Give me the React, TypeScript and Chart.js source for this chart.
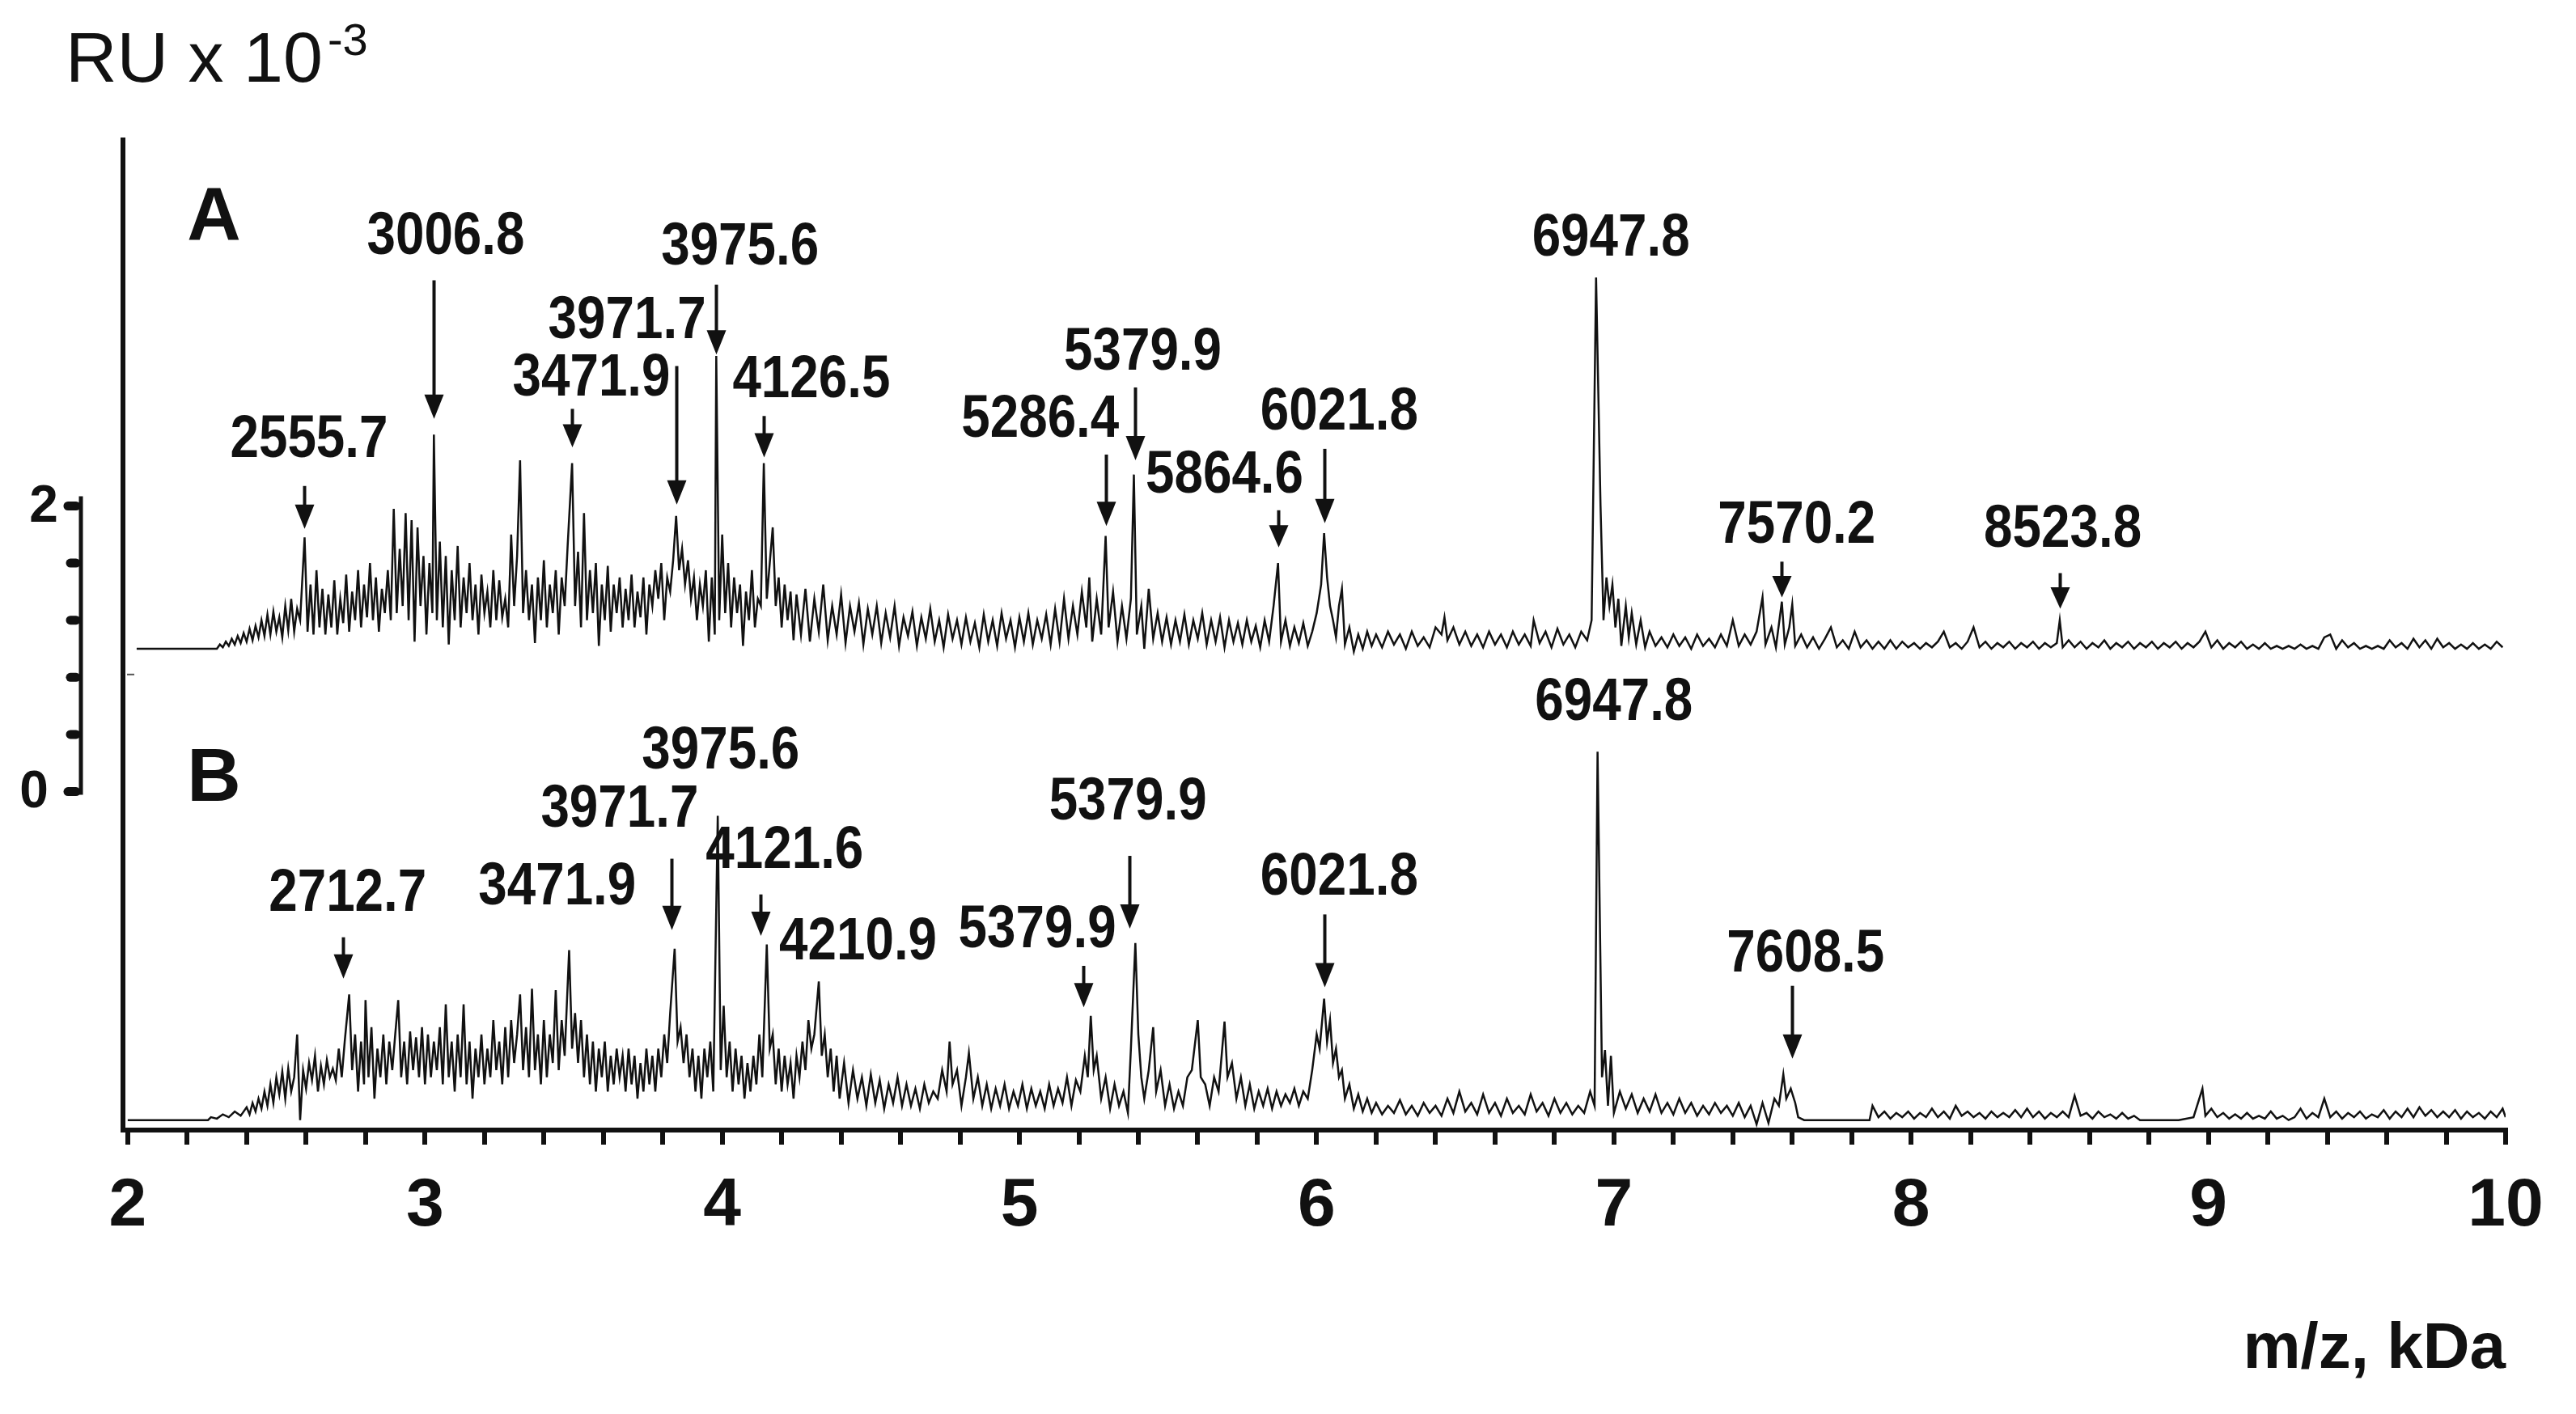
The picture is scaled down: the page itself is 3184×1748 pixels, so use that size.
import { useEffect, useRef } from 'react';
import { Chart, registerables } from 'chart.js';

Chart.register(...registerables);

// ---- Spectrum A: [m/z (kDa), intensity above its own baseline (RU x 10^-3)] ----
const spectrumA: [number, number][] = [
  [2.03, 0], [2.3, 0], [2.31, 0.03], [2.32, 0.01], [2.33, 0.05], [2.34, 0.02], [2.35, 0.07], [2.36, 0.03],
  [2.37, 0.09], [2.38, 0.04], [2.39, 0.11], [2.4, 0.05], [2.41, 0.14], [2.42, 0.06], [2.43, 0.16], [2.44, 0.08],
  [2.45, 0.2], [2.46, 0.09], [2.47, 0.24], [2.48, 0.1], [2.49, 0.26], [2.5, 0.12], [2.51, 0.22], [2.52, 0.08],
  [2.53, 0.3], [2.54, 0.13], [2.55, 0.35], [2.56, 0.12], [2.57, 0.28], [2.58, 0.2], [2.595, 0.78], [2.605, 0.12],
  [2.615, 0.45], [2.625, 0.1], [2.635, 0.55], [2.645, 0.15], [2.655, 0.42], [2.665, 0.1], [2.675, 0.38], [2.685, 0.15],
  [2.695, 0.48], [2.705, 0.1], [2.715, 0.35], [2.725, 0.18], [2.735, 0.52], [2.745, 0.12], [2.755, 0.4], [2.765, 0.2],
  [2.775, 0.55], [2.785, 0.15], [2.795, 0.45], [2.805, 0.22], [2.815, 0.6], [2.825, 0.2], [2.835, 0.5], [2.845, 0.12],
  [2.855, 0.42], [2.865, 0.25], [2.875, 0.55], [2.885, 0.2], [2.895, 0.98], [2.905, 0.25], [2.915, 0.7], [2.925, 0.3],
  [2.935, 0.95], [2.945, 0.2], [2.955, 0.9], [2.965, 0.05], [2.975, 0.85], [2.985, 0.3], [2.995, 0.65], [3.005, 0.1],
  [3.015, 0.6], [3.025, 0.25], [3.03, 1.5], [3.04, 0.2], [3.05, 0.75], [3.06, 0.15], [3.07, 0.65], [3.08, 0.03],
  [3.09, 0.55], [3.1, 0.2], [3.11, 0.72], [3.12, 0.15], [3.13, 0.5], [3.14, 0.25], [3.15, 0.6], [3.16, 0.2],
  [3.17, 0.45], [3.18, 0.1], [3.19, 0.52], [3.2, 0.25], [3.21, 0.4], [3.22, 0.15], [3.23, 0.55], [3.24, 0.2],
  [3.25, 0.48], [3.26, 0.22], [3.27, 0.35], [3.28, 0.15], [3.29, 0.8], [3.3, 0.3], [3.31, 0.65], [3.32, 1.32],
  [3.33, 0.25], [3.34, 0.55], [3.35, 0.2], [3.36, 0.45], [3.37, 0.04], [3.38, 0.5], [3.39, 0.2], [3.4, 0.62],
  [3.41, 0.15], [3.42, 0.45], [3.43, 0.25], [3.44, 0.55], [3.45, 0.1], [3.46, 0.5], [3.47, 0.3], [3.48, 0.72],
  [3.495, 1.3], [3.505, 0.3], [3.515, 0.68], [3.525, 0.15], [3.535, 0.95], [3.545, 0.2], [3.555, 0.55], [3.565, 0.25],
  [3.575, 0.6], [3.585, 0.02], [3.595, 0.45], [3.605, 0.2], [3.615, 0.58], [3.625, 0.12], [3.635, 0.45], [3.645, 0.25],
  [3.655, 0.5], [3.665, 0.15], [3.675, 0.42], [3.685, 0.2], [3.695, 0.52], [3.705, 0.15], [3.715, 0.4], [3.725, 0.22],
  [3.735, 0.5], [3.745, 0.1], [3.755, 0.45], [3.765, 0.3], [3.775, 0.55], [3.785, 0.35], [3.795, 0.6], [3.805, 0.2],
  [3.815, 0.5], [3.825, 0.4], [3.835, 0.62], [3.845, 0.93], [3.855, 0.55], [3.865, 0.7], [3.875, 0.45], [3.885, 0.62],
  [3.895, 0.35], [3.905, 0.5], [3.915, 0.2], [3.925, 0.45], [3.935, 0.3], [3.945, 0.55], [3.955, 0.05], [3.965, 0.5],
  [3.975, 0.1], [3.98, 2.05], [3.99, 0.2], [4.0, 0.8], [4.01, 0.25], [4.02, 0.6], [4.03, 0.15], [4.04, 0.5],
  [4.05, 0.25], [4.06, 0.45], [4.07, 0.02], [4.08, 0.4], [4.09, 0.2], [4.1, 0.55], [4.11, 0.15], [4.12, 0.35],
  [4.13, 0.3], [4.14, 1.3], [4.15, 0.35], [4.16, 0.6], [4.17, 0.85], [4.18, 0.3], [4.19, 0.5], [4.2, 0.15],
  [4.21, 0.45], [4.22, 0.2], [4.23, 0.4], [4.24, 0.06], [4.25, 0.38], [4.265, 0.1], [4.28, 0.42], [4.295, 0.05],
  [4.31, 0.35], [4.325, 0.12], [4.34, 0.45], [4.355, 0.06], [4.37, 0.3], [4.385, 0.1], [4.4, 0.38], [4.415, 0.04],
  [4.43, 0.3], [4.445, 0.12], [4.46, 0.32], [4.475, 0.03], [4.49, 0.28], [4.505, 0.1], [4.52, 0.3], [4.535, 0.04],
  [4.55, 0.25], [4.565, 0.08], [4.58, 0.3], [4.595, 0.02], [4.61, 0.22], [4.625, 0.09], [4.64, 0.26], [4.655, 0.02],
  [4.67, 0.22], [4.685, 0.07], [4.7, 0.28], [4.715, 0.05], [4.73, 0.2], [4.745, 0.01], [4.76, 0.24], [4.775, 0.07],
  [4.79, 0.2], [4.805, 0.03], [4.82, 0.22], [4.835, 0.05], [4.85, 0.18], [4.865, 0.01], [4.88, 0.24], [4.895, 0.05],
  [4.91, 0.2], [4.925, 0.02], [4.94, 0.25], [4.955, 0.07], [4.97, 0.2], [4.985, 0.01], [5.0, 0.22], [5.015, 0.05],
  [5.03, 0.25], [5.045, 0.03], [5.06, 0.2], [5.075, 0.07], [5.09, 0.24], [5.105, 0.03], [5.12, 0.28], [5.135, 0.05],
  [5.15, 0.35], [5.165, 0.07], [5.18, 0.3], [5.195, 0.1], [5.21, 0.4], [5.225, 0.15], [5.235, 0.5], [5.245, 0.05],
  [5.26, 0.35], [5.275, 0.1], [5.29, 0.79], [5.3, 0.15], [5.315, 0.4], [5.33, 0.05], [5.345, 0.3], [5.36, 0.07],
  [5.375, 0.35], [5.385, 1.22], [5.395, 0.1], [5.41, 0.3], [5.42, 0.0], [5.435, 0.42], [5.45, 0.07], [5.465, 0.25],
  [5.48, 0.05], [5.495, 0.22], [5.51, 0.03], [5.525, 0.2], [5.54, 0.05], [5.555, 0.24], [5.57, 0.03], [5.585, 0.2],
  [5.6, 0.07], [5.615, 0.25], [5.63, 0.03], [5.645, 0.2], [5.66, 0.05], [5.675, 0.22], [5.69, 0.01], [5.705, 0.2],
  [5.72, 0.05], [5.735, 0.18], [5.75, 0.03], [5.765, 0.2], [5.78, 0.05], [5.795, 0.16], [5.81, 0.01], [5.825, 0.2],
  [5.84, 0.05], [5.855, 0.3], [5.87, 0.6], [5.88, 0.05], [5.895, 0.2], [5.91, 0.02], [5.925, 0.15], [5.94, 0.04],
  [5.955, 0.18], [5.97, 0.02], [5.985, 0.12], [6.0, 0.25], [6.015, 0.45], [6.025, 0.81], [6.035, 0.5], [6.045, 0.3],
  [6.055, 0.2], [6.065, 0.08], [6.075, 0.3], [6.085, 0.42], [6.095, 0.03], [6.11, 0.15], [6.125, -0.02], [6.14, 0.1],
  [6.155, 0.0], [6.17, 0.12], [6.185, 0.02], [6.2, 0.1], [6.22, 0.01], [6.24, 0.12], [6.26, 0.03], [6.28, 0.1],
  [6.3, 0.0], [6.32, 0.12], [6.34, 0.02], [6.36, 0.08], [6.38, 0.01], [6.4, 0.15], [6.42, 0.1], [6.43, 0.22],
  [6.44, 0.06], [6.46, 0.15], [6.48, 0.03], [6.5, 0.12], [6.52, 0.02], [6.54, 0.1], [6.56, 0.01], [6.58, 0.12],
  [6.6, 0.03], [6.62, 0.1], [6.64, 0.01], [6.66, 0.12], [6.68, 0.03], [6.7, 0.1], [6.72, 0.02], [6.73, 0.2],
  [6.75, 0.04], [6.77, 0.12], [6.79, 0.01], [6.81, 0.14], [6.83, 0.03], [6.85, 0.1], [6.87, 0.01], [6.89, 0.12],
  [6.91, 0.06], [6.925, 0.2], [6.94, 2.6], [6.955, 1.0], [6.965, 0.2], [6.975, 0.5], [6.985, 0.3], [6.995, 0.45],
  [7.005, 0.15], [7.015, 0.35], [7.025, 0.02], [7.04, 0.3], [7.05, 0.08], [7.06, 0.25], [7.075, 0.03], [7.09, 0.2],
  [7.105, 0.01], [7.12, 0.12], [7.14, 0.02], [7.16, 0.08], [7.18, 0.01], [7.2, 0.1], [7.22, 0.02], [7.24, 0.08],
  [7.26, 0.0], [7.28, 0.1], [7.3, 0.02], [7.32, 0.07], [7.34, 0.01], [7.36, 0.1], [7.38, 0.02], [7.4, 0.2],
  [7.42, 0.02], [7.44, 0.1], [7.46, 0.03], [7.48, 0.12], [7.5, 0.36], [7.51, 0.03], [7.53, 0.15], [7.545, 0.01],
  [7.565, 0.33], [7.575, 0.03], [7.59, 0.15], [7.6, 0.31], [7.61, 0.02], [7.63, 0.1], [7.65, 0.01], [7.67, 0.08],
  [7.69, 0.0], [7.71, 0.07], [7.73, 0.15], [7.75, 0.01], [7.77, 0.06], [7.79, 0.0], [7.81, 0.12], [7.83, 0.01],
  [7.85, 0.06], [7.87, 0.0], [7.89, 0.05], [7.91, 0.0], [7.93, 0.06], [7.95, 0.0], [7.97, 0.05], [7.99, 0.01],
  [8.01, 0.04], [8.03, 0.0], [8.05, 0.04], [8.07, 0.01], [8.09, 0.05], [8.11, 0.12], [8.13, 0.01], [8.15, 0.04],
  [8.17, 0.0], [8.19, 0.05], [8.21, 0.15], [8.23, 0.01], [8.25, 0.05], [8.27, 0.0], [8.29, 0.04], [8.31, 0.01],
  [8.33, 0.05], [8.35, 0.0], [8.37, 0.04], [8.39, 0.01], [8.41, 0.05], [8.43, 0.0], [8.45, 0.04], [8.47, 0.01],
  [8.49, 0.04], [8.5, 0.2], [8.51, 0.01], [8.53, 0.06], [8.55, 0.01], [8.57, 0.05], [8.59, 0.0], [8.61, 0.04],
  [8.63, 0.01], [8.65, 0.06], [8.67, 0.0], [8.69, 0.04], [8.71, 0.01], [8.73, 0.05], [8.75, 0.0], [8.77, 0.04],
  [8.79, 0.01], [8.81, 0.05], [8.83, 0.0], [8.85, 0.04], [8.87, 0.01], [8.89, 0.05], [8.91, 0.0], [8.93, 0.04],
  [8.95, 0.01], [8.97, 0.05], [8.99, 0.12], [9.01, 0.01], [9.03, 0.06], [9.05, 0.0], [9.07, 0.04], [9.09, 0.01],
  [9.11, 0.05], [9.13, 0.0], [9.15, 0.03], [9.17, 0.0], [9.19, 0.04], [9.21, 0.0], [9.23, 0.02], [9.25, 0.0],
  [9.27, 0.02], [9.29, 0.0], [9.31, 0.03], [9.33, 0.0], [9.35, 0.02], [9.37, 0.0], [9.39, 0.08], [9.41, 0.1],
  [9.43, 0.0], [9.45, 0.06], [9.47, 0.01], [9.49, 0.04], [9.51, 0.0], [9.53, 0.02], [9.55, 0.0], [9.57, 0.02],
  [9.59, 0.0], [9.61, 0.06], [9.63, 0.01], [9.65, 0.04], [9.67, 0.0], [9.69, 0.07], [9.71, 0.01], [9.73, 0.06],
  [9.75, 0.0], [9.77, 0.07], [9.79, 0.01], [9.81, 0.04], [9.83, 0.0], [9.85, 0.03], [9.87, 0.0], [9.89, 0.04],
  [9.91, 0.0], [9.93, 0.03], [9.95, 0.0], [9.97, 0.05], [9.99, 0.01],
];

// ---- Spectrum B ----
const spectrumB: [number, number][] = [
  [2.0, 0], [2.27, 0], [2.28, 0.02], [2.3, 0.01], [2.32, 0.04], [2.34, 0.02], [2.36, 0.06], [2.38, 0.03],
  [2.4, 0.09], [2.41, 0.04], [2.42, 0.12], [2.43, 0.06], [2.44, 0.15], [2.45, 0.08], [2.46, 0.2], [2.47, 0.1],
  [2.48, 0.25], [2.49, 0.12], [2.5, 0.3], [2.51, 0.18], [2.52, 0.34], [2.53, 0.15], [2.54, 0.36], [2.55, 0.2],
  [2.56, 0.3], [2.57, 0.6], [2.58, 0.0], [2.59, 0.35], [2.6, 0.22], [2.61, 0.4], [2.62, 0.28], [2.63, 0.45],
  [2.64, 0.2], [2.65, 0.38], [2.66, 0.25], [2.67, 0.42], [2.68, 0.3], [2.69, 0.36], [2.7, 0.28], [2.71, 0.5],
  [2.72, 0.3], [2.73, 0.55], [2.745, 0.88], [2.755, 0.35], [2.765, 0.6], [2.775, 0.2], [2.785, 0.55], [2.795, 0.25],
  [2.8, 0.84], [2.81, 0.3], [2.82, 0.65], [2.83, 0.15], [2.84, 0.5], [2.85, 0.3], [2.86, 0.6], [2.87, 0.25],
  [2.88, 0.55], [2.89, 0.35], [2.9, 0.6], [2.91, 0.84], [2.92, 0.3], [2.93, 0.55], [2.94, 0.25], [2.95, 0.62],
  [2.96, 0.35], [2.97, 0.58], [2.98, 0.3], [2.99, 0.65], [3.0, 0.25], [3.01, 0.6], [3.02, 0.3], [3.03, 0.55],
  [3.04, 0.35], [3.05, 0.65], [3.06, 0.25], [3.07, 0.81], [3.08, 0.3], [3.09, 0.55], [3.1, 0.2], [3.11, 0.6],
  [3.12, 0.3], [3.13, 0.81], [3.14, 0.25], [3.15, 0.55], [3.16, 0.15], [3.17, 0.5], [3.18, 0.3], [3.19, 0.6],
  [3.2, 0.25], [3.21, 0.5], [3.22, 0.3], [3.23, 0.7], [3.24, 0.35], [3.25, 0.55], [3.26, 0.25], [3.27, 0.65],
  [3.28, 0.3], [3.29, 0.7], [3.3, 0.4], [3.31, 0.6], [3.32, 0.88], [3.33, 0.35], [3.34, 0.65], [3.35, 0.3],
  [3.36, 0.92], [3.37, 0.35], [3.38, 0.6], [3.39, 0.25], [3.4, 0.7], [3.41, 0.3], [3.42, 0.6], [3.43, 0.4],
  [3.44, 0.91], [3.45, 0.35], [3.46, 0.7], [3.47, 0.45], [3.485, 1.19], [3.495, 0.5], [3.505, 0.75], [3.515, 0.4],
  [3.525, 0.7], [3.535, 0.3], [3.545, 0.6], [3.555, 0.25], [3.565, 0.55], [3.575, 0.2], [3.585, 0.5], [3.595, 0.3],
  [3.605, 0.55], [3.615, 0.2], [3.625, 0.45], [3.635, 0.25], [3.645, 0.5], [3.655, 0.3], [3.665, 0.45], [3.675, 0.2],
  [3.685, 0.5], [3.695, 0.25], [3.705, 0.45], [3.715, 0.15], [3.725, 0.4], [3.735, 0.2], [3.745, 0.5], [3.755, 0.25],
  [3.765, 0.45], [3.775, 0.2], [3.785, 0.5], [3.795, 0.3], [3.805, 0.6], [3.815, 0.4], [3.825, 0.75], [3.84, 1.2],
  [3.85, 0.55], [3.86, 0.65], [3.87, 0.4], [3.88, 0.6], [3.89, 0.3], [3.9, 0.5], [3.91, 0.2], [3.92, 0.45],
  [3.93, 0.15], [3.94, 0.5], [3.95, 0.3], [3.96, 0.55], [3.97, 0.2], [3.985, 2.13], [3.995, 0.35], [4.005, 0.8],
  [4.015, 0.3], [4.025, 0.55], [4.035, 0.2], [4.045, 0.5], [4.055, 0.25], [4.065, 0.45], [4.075, 0.15], [4.085, 0.4],
  [4.095, 0.2], [4.105, 0.45], [4.115, 0.25], [4.125, 0.6], [4.135, 0.3], [4.15, 1.23], [4.16, 0.5], [4.17, 0.6],
  [4.18, 0.25], [4.19, 0.5], [4.2, 0.2], [4.21, 0.45], [4.22, 0.25], [4.23, 0.4], [4.24, 0.15], [4.25, 0.45],
  [4.26, 0.3], [4.27, 0.55], [4.28, 0.35], [4.29, 0.7], [4.3, 0.5], [4.31, 0.6], [4.325, 0.97], [4.335, 0.45],
  [4.345, 0.6], [4.355, 0.3], [4.365, 0.5], [4.375, 0.2], [4.385, 0.45], [4.395, 0.15], [4.41, 0.4], [4.425, 0.12],
  [4.44, 0.35], [4.455, 0.15], [4.47, 0.3], [4.485, 0.1], [4.5, 0.32], [4.515, 0.12], [4.53, 0.28], [4.545, 0.08],
  [4.56, 0.25], [4.575, 0.12], [4.59, 0.3], [4.605, 0.1], [4.62, 0.25], [4.635, 0.1], [4.65, 0.22], [4.665, 0.08],
  [4.68, 0.25], [4.695, 0.12], [4.71, 0.2], [4.725, 0.15], [4.74, 0.35], [4.755, 0.2], [4.765, 0.55], [4.775, 0.25],
  [4.79, 0.35], [4.805, 0.1], [4.82, 0.3], [4.83, 0.47], [4.845, 0.15], [4.86, 0.3], [4.875, 0.1], [4.89, 0.25],
  [4.905, 0.08], [4.92, 0.22], [4.935, 0.1], [4.95, 0.25], [4.965, 0.08], [4.98, 0.2], [4.995, 0.1], [5.01, 0.25],
  [5.025, 0.08], [5.04, 0.22], [5.055, 0.1], [5.07, 0.2], [5.085, 0.08], [5.1, 0.25], [5.115, 0.1], [5.13, 0.22],
  [5.145, 0.12], [5.16, 0.3], [5.175, 0.1], [5.19, 0.28], [5.205, 0.2], [5.22, 0.45], [5.23, 0.3], [5.24, 0.73],
  [5.25, 0.35], [5.26, 0.45], [5.275, 0.15], [5.29, 0.3], [5.305, 0.08], [5.32, 0.25], [5.335, 0.1], [5.35, 0.2],
  [5.365, 0.05], [5.375, 0.5], [5.39, 1.24], [5.4, 0.6], [5.41, 0.3], [5.42, 0.15], [5.435, 0.35], [5.45, 0.65],
  [5.46, 0.2], [5.475, 0.35], [5.49, 0.1], [5.505, 0.25], [5.52, 0.08], [5.535, 0.2], [5.55, 0.1], [5.565, 0.3],
  [5.58, 0.35], [5.6, 0.7], [5.61, 0.3], [5.625, 0.25], [5.64, 0.1], [5.655, 0.3], [5.67, 0.2], [5.69, 0.69],
  [5.7, 0.3], [5.715, 0.4], [5.73, 0.15], [5.745, 0.3], [5.76, 0.1], [5.775, 0.25], [5.79, 0.08], [5.805, 0.2],
  [5.82, 0.1], [5.835, 0.22], [5.85, 0.08], [5.865, 0.2], [5.88, 0.1], [5.895, 0.18], [5.91, 0.12], [5.925, 0.22],
  [5.94, 0.1], [5.955, 0.2], [5.97, 0.15], [5.985, 0.35], [6.0, 0.6], [6.01, 0.5], [6.025, 0.85], [6.035, 0.55],
  [6.045, 0.7], [6.055, 0.4], [6.065, 0.5], [6.075, 0.3], [6.085, 0.35], [6.095, 0.15], [6.11, 0.25], [6.125, 0.08],
  [6.14, 0.18], [6.155, 0.06], [6.17, 0.15], [6.185, 0.05], [6.2, 0.12], [6.22, 0.04], [6.24, 0.1], [6.26, 0.05],
  [6.28, 0.14], [6.3, 0.04], [6.32, 0.1], [6.34, 0.03], [6.36, 0.12], [6.38, 0.05], [6.4, 0.1], [6.42, 0.03],
  [6.44, 0.15], [6.46, 0.05], [6.48, 0.2], [6.5, 0.06], [6.52, 0.12], [6.54, 0.04], [6.56, 0.18], [6.58, 0.05],
  [6.6, 0.12], [6.62, 0.03], [6.64, 0.15], [6.66, 0.05], [6.68, 0.1], [6.7, 0.04], [6.72, 0.18], [6.74, 0.06],
  [6.76, 0.12], [6.78, 0.03], [6.8, 0.15], [6.82, 0.05], [6.84, 0.12], [6.86, 0.04], [6.88, 0.1], [6.9, 0.05],
  [6.92, 0.2], [6.935, 0.1], [6.945, 2.58], [6.96, 0.3], [6.97, 0.49], [6.98, 0.1], [6.99, 0.45], [7.0, 0.05],
  [7.02, 0.2], [7.04, 0.08], [7.06, 0.18], [7.08, 0.05], [7.1, 0.15], [7.12, 0.06], [7.14, 0.18], [7.16, 0.05],
  [7.18, 0.12], [7.2, 0.04], [7.22, 0.15], [7.24, 0.05], [7.26, 0.12], [7.28, 0.03], [7.3, 0.1], [7.32, 0.04],
  [7.34, 0.12], [7.36, 0.05], [7.38, 0.1], [7.4, 0.03], [7.42, 0.12], [7.44, 0.02], [7.46, 0.1], [7.48, -0.03],
  [7.5, 0.12], [7.52, -0.02], [7.54, 0.15], [7.555, 0.1], [7.57, 0.32], [7.58, 0.15], [7.595, 0.22], [7.61, 0.12],
  [7.62, 0.02], [7.64, 0.0], [7.86, 0.0], [7.87, 0.1], [7.89, 0.02], [7.91, 0.06], [7.93, 0.01], [7.95, 0.05],
  [7.97, 0.02], [7.99, 0.06], [8.01, 0.01], [8.03, 0.05], [8.05, 0.02], [8.07, 0.08], [8.09, 0.02], [8.11, 0.06],
  [8.13, 0.01], [8.15, 0.1], [8.17, 0.03], [8.19, 0.06], [8.21, 0.02], [8.23, 0.05], [8.25, 0.01], [8.27, 0.06],
  [8.29, 0.02], [8.31, 0.05], [8.33, 0.02], [8.35, 0.07], [8.37, 0.02], [8.39, 0.08], [8.41, 0.02], [8.43, 0.06],
  [8.45, 0.01], [8.47, 0.05], [8.49, 0.02], [8.51, 0.06], [8.53, 0.02], [8.55, 0.17], [8.57, 0.03], [8.59, 0.05],
  [8.61, 0.01], [8.63, 0.06], [8.65, 0.02], [8.67, 0.04], [8.69, 0.01], [8.71, 0.05], [8.73, 0.01], [8.75, 0.03],
  [8.77, 0.0], [8.9, 0.0], [8.95, 0.02], [8.98, 0.22], [8.99, 0.03], [9.01, 0.08], [9.03, 0.02], [9.05, 0.05],
  [9.07, 0.01], [9.09, 0.04], [9.11, 0.01], [9.13, 0.05], [9.15, 0.01], [9.17, 0.03], [9.19, 0.01], [9.21, 0.06],
  [9.23, 0.01], [9.25, 0.03], [9.27, 0.0], [9.29, 0.02], [9.31, 0.08], [9.33, 0.01], [9.35, 0.05], [9.37, 0.02],
  [9.39, 0.15], [9.41, 0.02], [9.43, 0.06], [9.45, 0.01], [9.47, 0.05], [9.49, 0.02], [9.51, 0.06], [9.53, 0.01],
  [9.55, 0.04], [9.57, 0.02], [9.59, 0.07], [9.61, 0.01], [9.63, 0.06], [9.65, 0.02], [9.67, 0.08], [9.69, 0.02],
  [9.71, 0.09], [9.73, 0.03], [9.75, 0.07], [9.77, 0.02], [9.79, 0.06], [9.81, 0.02], [9.83, 0.07], [9.85, 0.01],
  [9.87, 0.06], [9.89, 0.02], [9.91, 0.05], [9.93, 0.01], [9.95, 0.06], [9.97, 0.02], [9.99, 0.08], [10.0, 0.02],
];

// Vertical offsets of the two traces on the common RU x 10^-3 scale
const baselineA = 1.0;
const baselineB = -2.3;

// Axis ticks
const xMajorTicks = [2, 3, 4, 5, 6, 7, 8, 9, 10];
const xTickLabels = ['2', '3', '4', '5', '6', '7', '8', '9', '10'];
const xMinorTicks = [
  2, 2.2, 2.4, 2.6, 2.8, 3, 3.2, 3.4, 3.6, 3.8, 4, 4.2, 4.4, 4.6, 4.8, 5, 5.2, 5.4, 5.6, 5.8, 6,
  6.2, 6.4, 6.6, 6.8, 7, 7.2, 7.4, 7.6, 7.8, 8, 8.2, 8.4, 8.6, 8.8, 9, 9.2, 9.4, 9.6, 9.8, 10,
];
const scaleBarTicks = [0, 0.4, 0.8, 1.2, 1.6, 2];
const scaleBarLabels = ['0', '2'];
const scaleBarLabelValues = [0, 2];

type PeakNote = {
  text: string;
  labelMz: number;
  labelY: number;
  arrowMz?: number;
  arrowFrom?: number;
  arrowTo?: number;
};

// Peak annotations (label centre, arrow from/to) in data units
const peakNotesA: PeakNote[] = [
  { text: '2555.7', labelMz: 2.61, labelY: 2.46, arrowMz: 2.595, arrowFrom: 2.14, arrowTo: 1.84 },
  { text: '3006.8', labelMz: 3.07, labelY: 3.88, arrowMz: 3.03, arrowFrom: 3.58, arrowTo: 2.61 },
  { text: '3975.6', labelMz: 4.06, labelY: 3.81, arrowMz: 3.98, arrowFrom: 3.55, arrowTo: 3.06 },
  { text: '3971.7', labelMz: 3.68, labelY: 3.29, arrowMz: 3.845, arrowFrom: 2.98, arrowTo: 2.01 },
  { text: '3471.9', labelMz: 3.56, labelY: 2.89, arrowMz: 3.495, arrowFrom: 2.68, arrowTo: 2.41 },
  { text: '4126.5', labelMz: 4.3, labelY: 2.88, arrowMz: 4.14, arrowFrom: 2.63, arrowTo: 2.34 },
  { text: '5286.4', labelMz: 5.07, labelY: 2.6, arrowMz: 5.29, arrowFrom: 2.36, arrowTo: 1.86 },
  { text: '5379.9', labelMz: 5.415, labelY: 3.07, arrowMz: 5.39, arrowFrom: 2.83, arrowTo: 2.32 },
  { text: '5864.6', labelMz: 5.69, labelY: 2.21, arrowMz: 5.87, arrowFrom: 1.97, arrowTo: 1.71 },
  { text: '6021.8', labelMz: 6.076, labelY: 2.65, arrowMz: 6.025, arrowFrom: 2.4, arrowTo: 1.88 },
  { text: '6947.8', labelMz: 6.99, labelY: 3.87 },
  { text: '7570.2', labelMz: 7.615, labelY: 1.86, arrowMz: 7.565, arrowFrom: 1.61, arrowTo: 1.36 },
  { text: '8523.8', labelMz: 8.51, labelY: 1.83, arrowMz: 8.5, arrowFrom: 1.53, arrowTo: 1.28 },
];

const peakNotesB: PeakNote[] = [
  { text: '2712.7', labelMz: 2.74, labelY: -0.72, arrowMz: 2.725, arrowFrom: -1.02, arrowTo: -1.31 },
  { text: '3471.9', labelMz: 3.445, labelY: -0.67 },
  { text: '3971.7', labelMz: 3.655, labelY: -0.13, arrowMz: 3.83, arrowFrom: -0.47, arrowTo: -0.97 },
  { text: '3975.6', labelMz: 3.995, labelY: 0.28 },
  { text: '4121.6', labelMz: 4.21, labelY: -0.42, arrowMz: 4.13, arrowFrom: -0.72, arrowTo: -1.01 },
  { text: '4210.9', labelMz: 4.457, labelY: -1.06 },
  { text: '5379.9', labelMz: 5.06, labelY: -0.97, arrowMz: 5.215, arrowFrom: -1.22, arrowTo: -1.51 },
  { text: '5379.9', labelMz: 5.365, labelY: -0.08, arrowMz: 5.37, arrowFrom: -0.45, arrowTo: -0.96 },
  { text: '6021.8', labelMz: 6.076, labelY: -0.605, arrowMz: 6.025, arrowFrom: -0.86, arrowTo: -1.37 },
  { text: '6947.8', labelMz: 7.0, labelY: 0.62 },
  { text: '7608.5', labelMz: 7.645, labelY: -1.14, arrowMz: 7.6, arrowFrom: -1.36, arrowTo: -1.87 },
];

const panelLetters = ['A', 'B'];
const panelLetterMz = [2.29, 2.29];
const panelLetterY = [4.01, 0.08];

const W = 3184;
const H = 1748;
const FONT = '"Liberation Sans", Arial, Helvetica, sans-serif';

function drawText(
  ctx: CanvasRenderingContext2D,
  text: string,
  x: number,
  y: number,
  font: string,
  scaleX: number,
  align: CanvasTextAlign,
  baseline: CanvasTextBaseline
) {
  ctx.save();
  ctx.translate(x, y);
  ctx.scale(scaleX, 1);
  ctx.font = font;
  ctx.textAlign = align;
  ctx.textBaseline = baseline;
  ctx.fillText(text, 0, 0);
  ctx.restore();
}

const decorPlugin = {
  id: 'decor',
  beforeDraw(chart: any) {
    const { ctx } = chart;
    ctx.save();
    ctx.fillStyle = '#ffffff';
    ctx.fillRect(0, 0, chart.width, chart.height);
    ctx.restore();
  },
  afterDraw(chart: any) {
    const { ctx } = chart;
    const xs = chart.scales.x;
    const ys = chart.scales.y;
    ctx.save();
    ctx.fillStyle = '#111';
    ctx.strokeStyle = '#111';

    // Y unit title
    ctx.font = `88px ${FONT}`;
    ctx.textAlign = 'left';
    ctx.textBaseline = 'alphabetic';
    ctx.fillText('RU x 10', 81, 101);
    const w = ctx.measureText('RU x 10').width;
    ctx.font = `56px ${FONT}`;
    ctx.fillText('-3', 81 + w + 6, 68);

    // X axis title
    ctx.font = `bold 80px ${FONT}`;
    ctx.textAlign = 'right';
    ctx.fillText('m/z, kDa', 3097, 1691);

    // Scale bar (0..2)
    const barX = 100;
    const y0 = ys.getPixelForValue(0);
    const y2 = ys.getPixelForValue(2);
    ctx.lineWidth = 5;
    ctx.lineCap = 'butt';
    ctx.beginPath();
    ctx.moveTo(barX, y2 - 12);
    ctx.lineTo(barX, y0 + 4);
    ctx.stroke();
    ctx.lineWidth = 11;
    ctx.lineCap = 'round';
    scaleBarTicks.forEach((v) => {
      const py = ys.getPixelForValue(v);
      ctx.beginPath();
      ctx.moveTo(v === 0 || v === 2 ? 84 : 87, py);
      ctx.lineTo(94, py);
      ctx.stroke();
    });
    scaleBarLabelValues.forEach((v, i) => {
      const py = ys.getPixelForValue(v);
      drawText(ctx, scaleBarLabels[i], v === 0 ? 42 : 54, py + 2, `bold 64px ${FONT}`, 1, 'center', 'middle');
    });

    // small dash on main axis
    ctx.lineCap = 'butt';
    ctx.lineWidth = 2;
    ctx.strokeStyle = '#555';
    const dashY = ys.getPixelForValue(0.82);
    ctx.beginPath();
    ctx.moveTo(chart.chartArea.left + 5, dashY);
    ctx.lineTo(chart.chartArea.left + 14, dashY);
    ctx.stroke();
    ctx.strokeStyle = '#111';

    // Panel letters
    panelLetters.forEach((t, i) => {
      drawText(ctx, t, xs.getPixelForValue(panelLetterMz[i]), ys.getPixelForValue(panelLetterY[i]),
        `bold 92px ${FONT}`, 1, 'center', 'middle');
    });

    // Peak annotations
    const notes = [...peakNotesA, ...peakNotesB];
    notes.forEach((n) => {
      if (n.arrowMz !== undefined && n.arrowFrom !== undefined && n.arrowTo !== undefined) {
        const px = Math.round(xs.getPixelForValue(n.arrowMz)) + 0.5;
        const yTop = ys.getPixelForValue(n.arrowFrom);
        const yTip = ys.getPixelForValue(n.arrowTo);
        const headH = Math.min(30, (yTip - yTop) * 0.6);
        const headW = 24;
        ctx.lineWidth = 4;
        ctx.lineCap = 'butt';
        ctx.beginPath();
        ctx.moveTo(px, yTop);
        ctx.lineTo(px, yTip - headH + 2);
        ctx.stroke();
        ctx.beginPath();
        ctx.moveTo(px - headW / 2, yTip - headH);
        ctx.lineTo(px + headW / 2, yTip - headH);
        ctx.lineTo(px, yTip);
        ctx.closePath();
        ctx.fill();
      }
      drawText(ctx, n.text, xs.getPixelForValue(n.labelMz), ys.getPixelForValue(n.labelY),
        `bold 75px ${FONT}`, 0.85, 'center', 'middle');
    });
    ctx.restore();
  },
};

export default function App() {
  const canvasRef = useRef<HTMLCanvasElement | null>(null);

  useEffect(() => {
    document.body.style.margin = '0';
    document.body.style.overflow = 'hidden';
    const canvas = canvasRef.current;
    if (!canvas) return;
    const chart = new Chart(canvas, {
      type: 'line',
      data: {
        datasets: [
          {
            label: 'A',
            data: spectrumA.map(([x, y]) => ({ x, y: y + baselineA })),
            borderColor: '#111',
            borderWidth: 2.5,
            pointRadius: 0,
            tension: 0,
            fill: false,
          },
          {
            label: 'B',
            data: spectrumB.map(([x, y]) => ({ x, y: y + baselineB })),
            borderColor: '#111',
            borderWidth: 2.5,
            pointRadius: 0,
            tension: 0,
            fill: false,
          },
        ],
      },
      options: {
        responsive: false,
        animation: false,
        devicePixelRatio: 1,
        layout: { padding: { left: 152, right: 87, top: 173, bottom: 0 } },
        plugins: { legend: { display: false }, tooltip: { enabled: false } },
        scales: {
          x: {
            type: 'linear',
            min: 1.984,
            max: 10,
            afterBuildTicks: (scale: any) => {
              scale.ticks = xMinorTicks.map((v) => ({ value: v }));
            },
            afterFit: (scale: any) => {
              scale.height = H - 1397;
            },
            ticks: {
              autoSkip: false,
              maxRotation: 0,
              color: '#111',
              padding: 26,
              font: { family: '"Liberation Sans", Arial, sans-serif', weight: 'bold', size: 84 },
              callback: (value: any) => {
                const i = xMajorTicks.findIndex((m) => Math.abs(m - Number(value)) < 1e-6);
                return i >= 0 ? xTickLabels[i] : '';
              },
            },
            grid: {
              display: true,
              drawOnChartArea: false,
              drawTicks: true,
              tickLength: 18,
              lineWidth: 6,
              color: '#111',
            },
            border: { display: true, width: 6, color: '#111' },
          },
          y: {
            type: 'linear',
            min: -2.37,
            max: 4.563,
            afterFit: (scale: any) => {
              scale.width = 0;
            },
            ticks: { display: false },
            grid: { display: false, drawTicks: false },
            border: { display: true, width: 6, color: '#111' },
          },
        },
      },
      plugins: [decorPlugin],
    } as any);
    return () => chart.destroy();
  }, []);

  return (
    <div style={{ position: 'absolute', left: 0, top: 0, width: W, height: H, background: '#fff' }}>
      <canvas ref={canvasRef} width={W} height={H} style={{ width: W, height: H, display: 'block' }} />
    </div>
  );
}
